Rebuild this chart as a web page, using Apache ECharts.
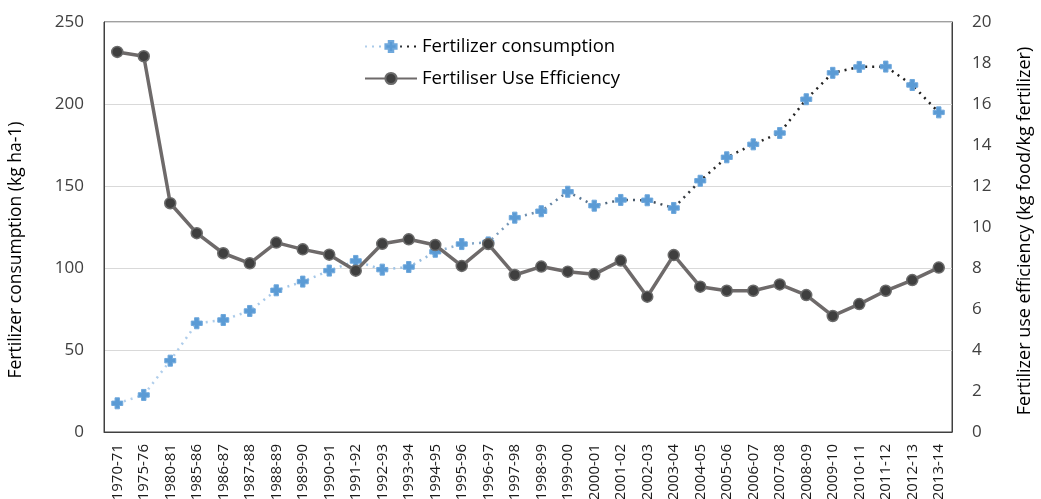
<!DOCTYPE html>
<html>
<head>
<meta charset="utf-8">
<script src="https://cdn.jsdelivr.net/npm/echarts@6/dist/echarts.min.js"></script>
<style>
html,body{margin:0;padding:0;background:#fff;}
#chart{width:1041px;height:499px;}
</style>
</head>
<body>
<div id="chart"></div>
<script>
const categories = ['1970-71','1975-76','1980-81','1985-86','1986-87','1987-88','1988-89','1989-90','1990-91','1991-92','1992-93','1993-94','1994-95','1995-96','1996-97','1997-98','1998-99','1999-00','2000-01','2001-02','2002-03','2003-04','2004-05','2005-06','2006-07','2007-08','2008-09','2009-10','2010-11','2011-12','2012-13','2013-14'];
const fertilizerConsumption = [17.5,22.6,43.5,66.3,68.3,73.8,86.4,91.7,98.4,104.3,99.0,100.6,109.9,114.6,115.6,130.7,134.6,146.5,138.0,141.5,141.3,136.6,153.2,167.5,175.4,182.3,202.9,219.0,222.6,222.8,211.6,194.9];
const useEfficiency = [18.54,18.33,11.16,9.70,8.72,8.23,9.24,8.91,8.65,7.87,9.18,9.40,9.12,8.10,9.17,7.66,8.07,7.82,7.69,8.36,6.60,8.63,7.09,6.89,6.89,7.20,6.68,5.66,6.24,6.89,7.41,8.02];
const leftTicks = [0,50,100,150,200,250];
const rightTicks = [0,2,4,6,8,10,12,14,16,18,20];

const chart = echarts.init(document.getElementById('chart'));
const font = 'Open Sans';
chart.setOption({
  animation: false,
  backgroundColor: '#fff',
  textStyle: {fontFamily: font},
  grid: {left: 104, right: 89, top: 22, bottom: 67, show: true, borderColor: '#404040', borderWidth: 1, containLabel: false, outerBoundsMode: 'none'},
  legend: {
    orient: 'vertical', left: 359, top: 32, itemGap: 13, itemWidth: 52, itemHeight: 14,
    textStyle: {fontFamily: font, fontSize: 18.5, color: '#000'},
    data: ['Fertilizer consumption', 'Fertiliser Use Efficiency']
  },
  xAxis: {
    type: 'category', data: categories, boundaryGap: true,
    axisLine: {show: true, lineStyle: {color: '#404040'}},
    axisTick: {show: false},
    axisLabel: {rotate: 90, interval: 0, fontSize: 15, color: '#1a1a1a', margin: 12, fontFamily: font}
  },
  yAxis: [
    {
      type: 'value', min: leftTicks[0], max: leftTicks[leftTicks.length-1], interval: 50,
      name: 'Fertilizer consumption (kg ha-1)', nameLocation: 'middle', nameGap: 79,
      nameTextStyle: {fontSize: 17.5, color: '#000', fontFamily: font, padding: [0, 0, 0, -46]},
      axisLine: {show: true, lineStyle: {color: '#404040'}},
      axisTick: {show: false},
      axisLabel: {fontSize: 17, color: '#404040', margin: 20, fontFamily: font},
      splitLine: {show: true, lineStyle: {color: '#d9d9d9', width: 1}}
    },
    {
      type: 'value', min: rightTicks[0], max: rightTicks[rightTicks.length-1], interval: 2,
      name: 'Fertilizer use efficiency (kg food/kg fertilizer)', nameLocation: 'middle', nameGap: 64,
      nameTextStyle: {fontSize: 18, color: '#000', fontFamily: font, padding: [0, 0, 0, -8]},
      axisLine: {show: true, lineStyle: {color: '#404040'}},
      axisTick: {show: false},
      axisLabel: {fontSize: 17, color: '#404040', margin: 20, fontFamily: font},
      splitLine: {show: false}
    }
  ],
  series: [
    {
      name: 'Fertilizer consumption', type: 'line', yAxisIndex: 0, data: fertilizerConsumption,
      symbol: 'path://M3,0 L7,0 L7,3 L10,3 L10,7 L7,7 L7,10 L3,10 L3,7 L0,7 L0,3 L3,3 Z',
      symbolSize: 11,
      itemStyle: {color: '#5b9bd5', borderColor: '#6fa8dc', borderWidth: 1},
      lineStyle: {
        width: 2.5, type: [2, 5],
        color: new echarts.graphic.LinearGradient(0, 0, 1, 0, [
          {offset: 0, color: '#b4d0ec'},
          {offset: 0.35, color: '#9dc3e6'},
          {offset: 0.55, color: '#5e7d9c'},
          {offset: 0.72, color: '#2a2a2a'},
          {offset: 1, color: '#1a1a1a'}
        ])
      },
      z: 2
    },
    {
      name: 'Fertiliser Use Efficiency', type: 'line', yAxisIndex: 1, data: useEfficiency,
      symbol: 'circle', symbolSize: 11,
      itemStyle: {color: '#3f3f3f', borderColor: '#6b6b6b', borderWidth: 1.5},
      lineStyle: {width: 3.5, color: '#6e6a6a'},
      z: 3
    }
  ]
});
</script>
</body>
</html>
